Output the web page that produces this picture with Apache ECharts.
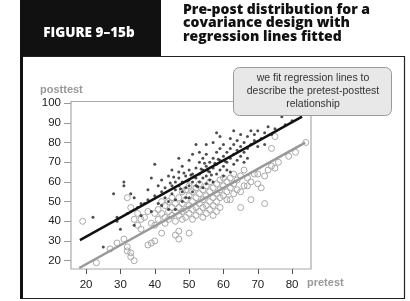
<!DOCTYPE html>
<html><head><meta charset="utf-8">
<script src="https://cdn.jsdelivr.net/npm/echarts@6/dist/echarts.min.js"></script>
<style>html,body{margin:0;padding:0;background:#fff}#c{width:410px;height:301px}</style>
</head><body><div id="c"></div>
<script>
const xTicks = [20, 30, 40, 50, 60, 70, 80];
const yTicks = [20, 30, 40, 50, 60, 70, 80, 90, 100];
const treatment = [[22,42],[25,27],[28,54],[29,42],[29,40],[30,36],[31,60],[31,58],[32,44],[33,54],[34,52],[35,47],[36,43],[37,49],[38,56],[38,51],[39,45],[40,69],[40,53],[41,58],[41,49],[42,55],[42,61],[43,52],[43,57],[44,63],[44,50],[45,58],[45,54],[45,66],[46,60],[46,56],[46,51],[47,62],[47,58],[47,65],[48,55],[48,60],[48,68],[49,63],[49,57],[49,52],[50,66],[50,61],[50,58],[50,71],[51,64],[51,60],[51,55],[52,67],[52,62],[52,79],[52,58],[53,70],[53,64],[53,60],[53,75],[54,66],[54,62],[54,72],[55,68],[55,63],[55,59],[55,74],[56,70],[56,65],[56,61],[57,72],[57,67],[57,80],[58,85],[58,69],[58,64],[58,75],[59,71],[59,66],[59,77],[60,73],[60,68],[60,63],[60,79],[61,75],[61,70],[61,66],[62,77],[62,72],[62,82],[63,74],[63,69],[63,79],[64,76],[64,71],[64,81],[65,78],[65,73],[65,84],[66,75],[66,80],[67,77],[67,72],[67,83],[68,79],[68,86],[69,84],[69,81],[70,78],[70,86],[71,82],[72,85],[72,79],[73,88],[74,84],[75,87],[77,93],[78,89],[80,91],[44,46],[48,50],[36,49],[39,62],[42,48],[57,60],[62,65],[66,70],[34,38],[47,72],[51,74],[55,79],[59,83],[63,86],[54,57],[46,46],[50,52],[44.5,59.5],[47.5,56.5],[49.5,60.5],[51.5,62.5],[53.5,66.5],[55.5,65.5],[57.5,69.5],[52.5,57.5],[56.5,63.5],[58.5,71.5],[60.5,70.5],[50.5,63.5],[48.5,64.5],[54.5,69.5],[45.5,62.5]];
const control = [[19,40],[23,19],[27,26],[29,29],[31,31],[32,27],[32,25],[33,24],[33,22],[34,20],[32,52],[33,47],[34,41],[35,38],[35,44],[36,41],[36,36],[37,42],[38,28],[39,29],[39,39],[40,44],[40,38],[41,46],[41,41],[42,34],[42,44],[43,48],[43,42],[43,39],[44,45],[44,50],[44,41],[45,47],[45,43],[45,52],[46,33],[46,49],[46,45],[46,40],[47,31],[47,35],[47,47],[47,52],[47,43],[48,49],[48,45],[48,55],[48,41],[49,51],[49,46],[49,42],[49,56],[50,34],[50,48],[50,53],[50,44],[50,58],[51,50],[51,46],[51,55],[51,41],[52,52],[52,47],[52,57],[52,43],[53,54],[53,49],[53,45],[53,59],[54,51],[54,56],[54,47],[54,42],[55,53],[55,48],[55,58],[55,44],[56,55],[56,50],[56,60],[56,46],[57,52],[57,57],[57,48],[57,43],[58,54],[58,59],[58,50],[58,45],[59,56],[59,52],[59,61],[59,47],[60,58],[60,53],[60,62],[61,55],[61,60],[61,51],[62,57],[62,51],[62,62],[63,59],[63,54],[63,64],[64,56],[64,61],[65,47],[65,55],[65,63],[66,58],[66,66],[67,58],[67,62],[68,51],[68,60],[69,64],[70,64],[70,59],[71,57],[72,49],[72,63],[73,66],[74,77],[74,68],[75,83],[75,67],[76,70],[79,73],[81,75],[84,80],[42,50],[38,45],[40,30]];
const treatmentLine = [[18.2,30.5],[82.9,93.1]];
const controlLine = [[18.0,16.3],[83.8,79.9]];
const titleLines = ['Pre-post distribution for a','covariance design with','regression lines fitted'];
const figureLabel = 'FIGURE 9\u201315b';
const calloutLines = ['we fit regression lines to','describe the pretest-posttest','relationship'];

const chart = echarts.init(document.getElementById('c'), null, {renderer:'canvas'});
const FF = '"Liberation Sans", Arial, sans-serif';
chart.setOption({
  animation:false,
  grid:{left:71,top:101.5,width:240,height:167.5,show:true,borderColor:'#aaa',borderWidth:1.2,backgroundColor:'transparent'},
  xAxis:{type:'value',min:15.6,max:85.5,
    axisLine:{show:false},splitLine:{show:false},
    axisTick:{show:true,length:5,lineStyle:{color:'#555'},customValues:xTicks},
    axisLabel:{customValues:xTicks,color:'#222',fontSize:11.5,fontFamily:FF,margin:10}},
  yAxis:{type:'value',min:15.8,max:100.8,
    axisLine:{show:false},splitLine:{show:false},
    axisTick:{show:true,length:7,lineStyle:{color:'#999'},customValues:yTicks},
    axisLabel:{customValues:yTicks,color:'#222',fontSize:11.5,fontFamily:FF,margin:10}},
  series:[
    {type:'scatter',data:control,symbol:'circle',symbolSize:6,itemStyle:{color:'rgba(255,255,255,0)',borderColor:'#a8a8a8',borderWidth:1,opacity:1},z:2},
    {type:'scatter',data:treatment,symbol:'circle',symbolSize:3,itemStyle:{color:'#222'},z:3},
    {type:'line',data:controlLine,showSymbol:false,lineStyle:{color:'#999',width:2.5},z:4},
    {type:'line',data:treatmentLine,showSymbol:false,lineStyle:{color:'#111',width:2.5},z:5}
  ],
  graphic:[
    {type:'rect',shape:{x:20,y:0,width:141,height:56},style:{fill:'#111'},z:1},
    {type:'text',x:89,y:33,style:{text:figureLabel,fill:'#fff',font:'800 13.5px "Open Sans", sans-serif',align:'center',verticalAlign:'middle'},z:2},
    {type:'text',x:183,y:3,style:{text:titleLines.join('\n'),fill:'#111',font:'800 14px "Open Sans", sans-serif',lineHeight:13.5,align:'left',verticalAlign:'top'},z:2},
    {type:'rect',shape:{x:21.5,y:56.5,width:383,height:242},style:{fill:'none',stroke:'#222',lineWidth:1.2},z:1},
    {type:'rect',shape:{x:20,y:56,width:3,height:243},style:{fill:'#111'},z:1},
    {type:'text',x:40,y:90,style:{text:'posttest',fill:'#999',font:'bold 11px '+FF,align:'left',verticalAlign:'middle'},z:2},
    {type:'text',x:307,y:283,style:{text:'pretest',fill:'#999',font:'bold 11px '+FF,align:'left',verticalAlign:'middle'},z:2},
    {type:'rect',shape:{x:233.5,y:67.5,width:158,height:48,r:6},style:{fill:'#e8e8e8',stroke:'#999',lineWidth:1},z:50},
    {type:'text',x:313,y:91,style:{text:calloutLines.join('\n'),fill:'#333',font:'10.5px '+FF,lineHeight:13,align:'center',verticalAlign:'middle'},z:51}
  ]
});
</script></body></html>
